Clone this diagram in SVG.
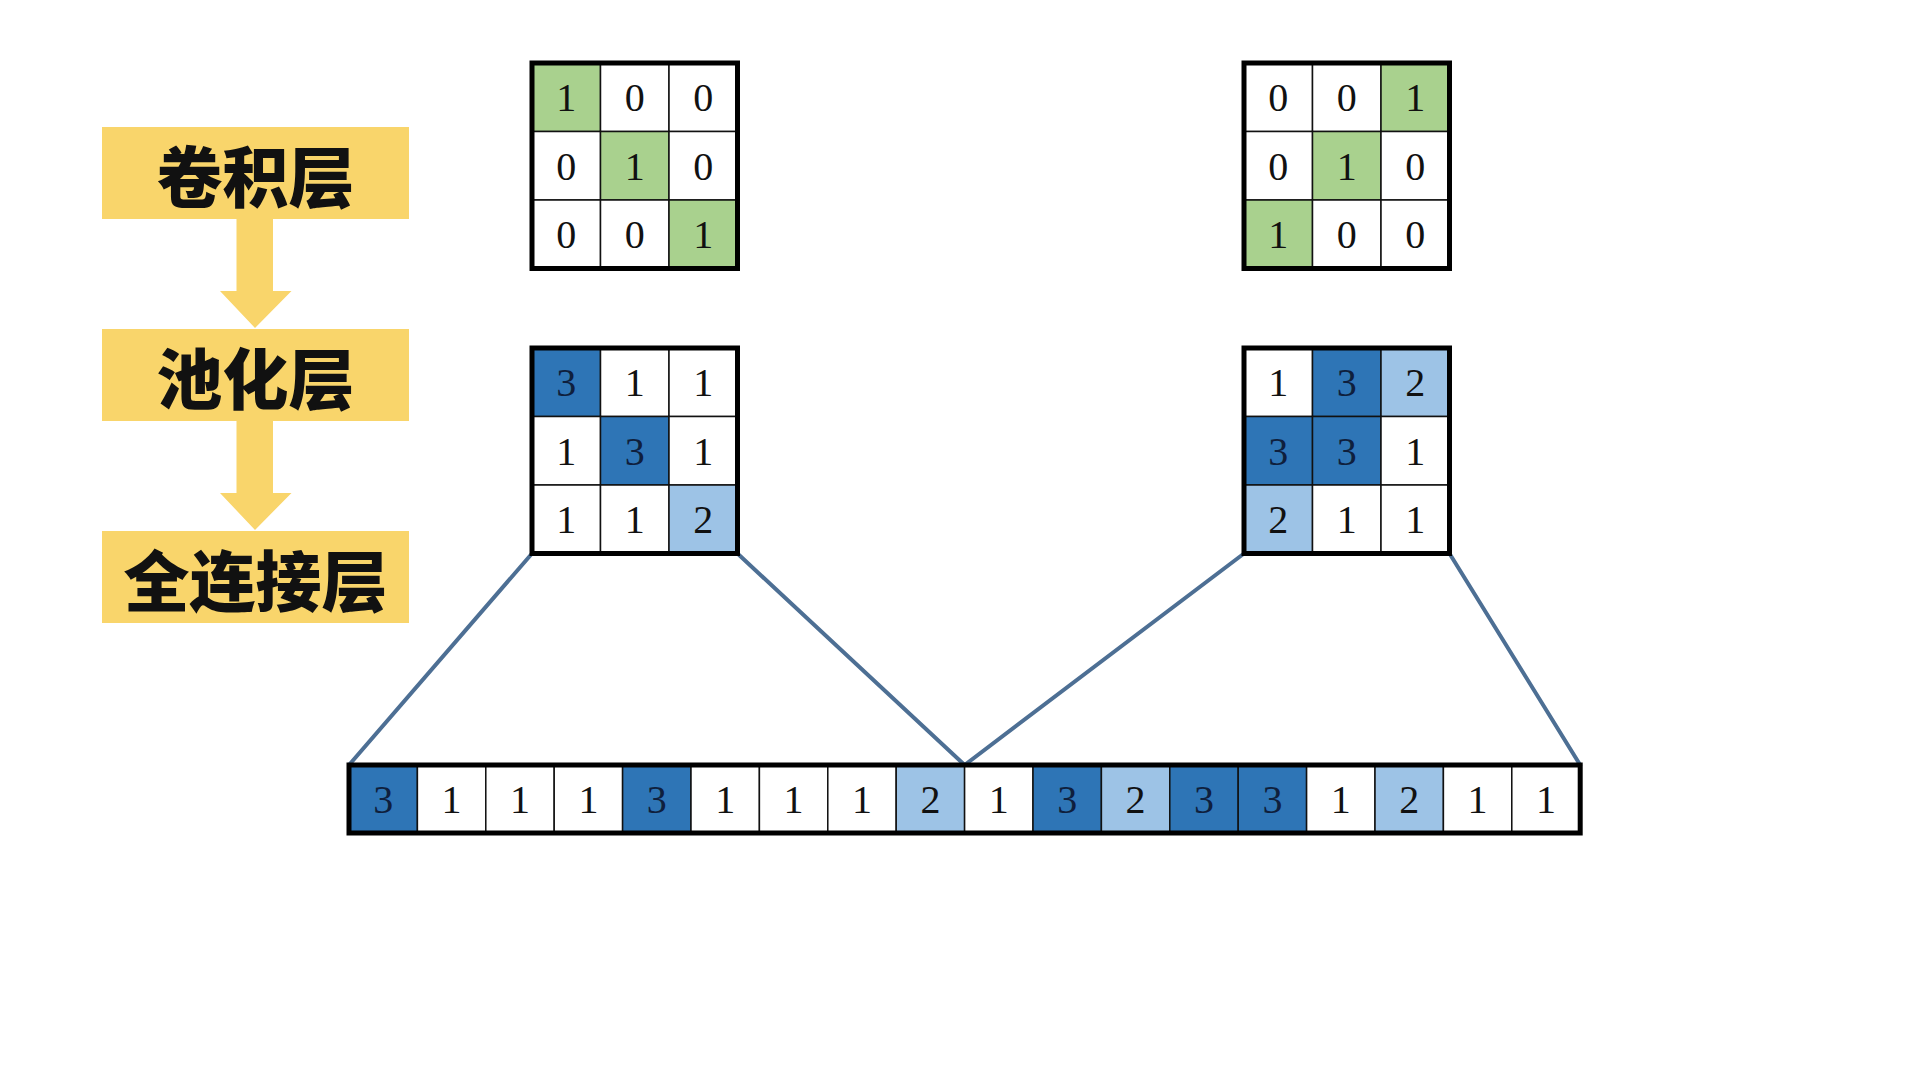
<svg xmlns="http://www.w3.org/2000/svg" width="1920" height="1080" viewBox="0 0 1920 1080">
<style>
.lbl{fill:#f9d56b}
.ltxt{font-family:"Noto Sans CJK SC","Noto Sans",sans-serif;font-weight:900;font-size:66px;fill:#111;text-anchor:middle;dominant-baseline:central}
.arr{fill:#f9d56b}
.c{stroke:#111;stroke-width:1.5}
.w{fill:#ffffff}
.g{fill:#a9d18e}
.d{fill:#2e75b6}
.l{fill:#9dc3e6}
.frame{fill:none;stroke:#000;stroke-width:5}
.n{font-family:"Liberation Serif","DejaVu Serif",serif;font-size:40px;fill:#111;text-anchor:middle}
.nd{fill:#0f1f3d}
.con{stroke:#4d6f94;stroke-width:4;fill:none;stroke-linecap:round}
</style>
<rect width="1920" height="1080" fill="#ffffff"/>

<g id="label-conv">
<rect class="lbl" x="102" y="127" width="307" height="92"/>
<text class="ltxt" x="255.5" y="173">卷积层</text>
</g>
<g id="label-pool">
<rect class="lbl" x="102" y="329" width="307" height="92"/>
<text class="ltxt" x="255.5" y="375">池化层</text>
</g>
<g id="label-fc">
<rect class="lbl" x="102" y="531" width="307" height="92"/>
<text class="ltxt" x="255.5" y="577">全连接层</text>
</g>
<g id="flow-arrows">
<polygon class="arr" points="236.5,219 273,219 273,291 291.5,291 255,328 220,291 236.5,291"/>
<polygon class="arr" points="236.5,421 273,421 273,493 291.5,493 255,530 220,493 236.5,493"/>
</g>

<g id="connectors">
<line class="con" x1="532" y1="553.5" x2="349" y2="765"/>
<line class="con" x1="737.5" y1="553.5" x2="964.6" y2="765"/>
<line class="con" x1="1244" y1="553.5" x2="964.6" y2="765"/>
<line class="con" x1="1449.5" y1="553.5" x2="1580.2" y2="765"/>
</g>

<g id="conv-kernel-left">
<rect class="c g" x="532" y="63" width="68.5" height="68.5"/>
<rect class="c w" x="600.5" y="63" width="68.5" height="68.5"/>
<rect class="c w" x="669" y="63" width="68.5" height="68.5"/>
<rect class="c w" x="532" y="131.5" width="68.5" height="68.5"/>
<rect class="c g" x="600.5" y="131.5" width="68.5" height="68.5"/>
<rect class="c w" x="669" y="131.5" width="68.5" height="68.5"/>
<rect class="c w" x="532" y="200" width="68.5" height="68.5"/>
<rect class="c w" x="600.5" y="200" width="68.5" height="68.5"/>
<rect class="c g" x="669" y="200" width="68.5" height="68.5"/>
<rect class="frame" x="532" y="63" width="205.5" height="205.5"/>
<text class="n" x="566.25" y="111">1</text><text class="n" x="634.75" y="111">0</text><text class="n" x="703.25" y="111">0</text>
<text class="n" x="566.25" y="179.5">0</text><text class="n" x="634.75" y="179.5">1</text><text class="n" x="703.25" y="179.5">0</text>
<text class="n" x="566.25" y="248">0</text><text class="n" x="634.75" y="248">0</text><text class="n" x="703.25" y="248">1</text>
</g>

<g id="conv-kernel-right">
<rect class="c w" x="1244" y="63" width="68.5" height="68.5"/>
<rect class="c w" x="1312.5" y="63" width="68.5" height="68.5"/>
<rect class="c g" x="1381" y="63" width="68.5" height="68.5"/>
<rect class="c w" x="1244" y="131.5" width="68.5" height="68.5"/>
<rect class="c g" x="1312.5" y="131.5" width="68.5" height="68.5"/>
<rect class="c w" x="1381" y="131.5" width="68.5" height="68.5"/>
<rect class="c g" x="1244" y="200" width="68.5" height="68.5"/>
<rect class="c w" x="1312.5" y="200" width="68.5" height="68.5"/>
<rect class="c w" x="1381" y="200" width="68.5" height="68.5"/>
<rect class="frame" x="1244" y="63" width="205.5" height="205.5"/>
<text class="n" x="1278.25" y="111">0</text><text class="n" x="1346.75" y="111">0</text><text class="n" x="1415.25" y="111">1</text>
<text class="n" x="1278.25" y="179.5">0</text><text class="n" x="1346.75" y="179.5">1</text><text class="n" x="1415.25" y="179.5">0</text>
<text class="n" x="1278.25" y="248">1</text><text class="n" x="1346.75" y="248">0</text><text class="n" x="1415.25" y="248">0</text>
</g>

<g id="pool-left">
<rect class="c d" x="532" y="348" width="68.5" height="68.5"/>
<rect class="c w" x="600.5" y="348" width="68.5" height="68.5"/>
<rect class="c w" x="669" y="348" width="68.5" height="68.5"/>
<rect class="c w" x="532" y="416.5" width="68.5" height="68.5"/>
<rect class="c d" x="600.5" y="416.5" width="68.5" height="68.5"/>
<rect class="c w" x="669" y="416.5" width="68.5" height="68.5"/>
<rect class="c w" x="532" y="485" width="68.5" height="68.5"/>
<rect class="c w" x="600.5" y="485" width="68.5" height="68.5"/>
<rect class="c l" x="669" y="485" width="68.5" height="68.5"/>
<rect class="frame" x="532" y="348" width="205.5" height="205.5"/>
<text class="n nd" x="566.25" y="396">3</text><text class="n" x="634.75" y="396">1</text><text class="n" x="703.25" y="396">1</text>
<text class="n" x="566.25" y="464.5">1</text><text class="n nd" x="634.75" y="464.5">3</text><text class="n" x="703.25" y="464.5">1</text>
<text class="n" x="566.25" y="533">1</text><text class="n" x="634.75" y="533">1</text><text class="n" x="703.25" y="533">2</text>
</g>

<g id="pool-right">
<rect class="c w" x="1244" y="348" width="68.5" height="68.5"/>
<rect class="c d" x="1312.5" y="348" width="68.5" height="68.5"/>
<rect class="c l" x="1381" y="348" width="68.5" height="68.5"/>
<rect class="c d" x="1244" y="416.5" width="68.5" height="68.5"/>
<rect class="c d" x="1312.5" y="416.5" width="68.5" height="68.5"/>
<rect class="c w" x="1381" y="416.5" width="68.5" height="68.5"/>
<rect class="c l" x="1244" y="485" width="68.5" height="68.5"/>
<rect class="c w" x="1312.5" y="485" width="68.5" height="68.5"/>
<rect class="c w" x="1381" y="485" width="68.5" height="68.5"/>
<rect class="frame" x="1244" y="348" width="205.5" height="205.5"/>
<text class="n" x="1278.25" y="396">1</text><text class="n nd" x="1346.75" y="396">3</text><text class="n" x="1415.25" y="396">2</text>
<text class="n nd" x="1278.25" y="464.5">3</text><text class="n nd" x="1346.75" y="464.5">3</text><text class="n" x="1415.25" y="464.5">1</text>
<text class="n" x="1278.25" y="533">2</text><text class="n" x="1346.75" y="533">1</text><text class="n" x="1415.25" y="533">1</text>
</g>

<g id="flattened-vector">
<rect class="c d" x="349" y="765" width="68.4" height="68"/>
<rect class="c w" x="417.4" y="765" width="68.4" height="68"/>
<rect class="c w" x="485.8" y="765" width="68.4" height="68"/>
<rect class="c w" x="554.2" y="765" width="68.4" height="68"/>
<rect class="c d" x="622.6" y="765" width="68.4" height="68"/>
<rect class="c w" x="691" y="765" width="68.4" height="68"/>
<rect class="c w" x="759.4" y="765" width="68.4" height="68"/>
<rect class="c w" x="827.8" y="765" width="68.4" height="68"/>
<rect class="c l" x="896.2" y="765" width="68.4" height="68"/>
<rect class="c w" x="964.6" y="765" width="68.4" height="68"/>
<rect class="c d" x="1033" y="765" width="68.4" height="68"/>
<rect class="c l" x="1101.4" y="765" width="68.4" height="68"/>
<rect class="c d" x="1169.8" y="765" width="68.4" height="68"/>
<rect class="c d" x="1238.2" y="765" width="68.4" height="68"/>
<rect class="c w" x="1306.6" y="765" width="68.4" height="68"/>
<rect class="c l" x="1375" y="765" width="68.4" height="68"/>
<rect class="c w" x="1443.4" y="765" width="68.4" height="68"/>
<rect class="c w" x="1511.8" y="765" width="68.4" height="68"/>
<rect class="frame" x="349" y="765" width="1231.2" height="68"/>
<text class="n nd" x="383.2" y="813">3</text>
<text class="n" x="451.6" y="813">1</text>
<text class="n" x="520" y="813">1</text>
<text class="n" x="588.4" y="813">1</text>
<text class="n nd" x="656.8" y="813">3</text>
<text class="n" x="725.2" y="813">1</text>
<text class="n" x="793.6" y="813">1</text>
<text class="n" x="862" y="813">1</text>
<text class="n" x="930.4" y="813">2</text>
<text class="n" x="998.8" y="813">1</text>
<text class="n nd" x="1067.2" y="813">3</text>
<text class="n" x="1135.6" y="813">2</text>
<text class="n nd" x="1204" y="813">3</text>
<text class="n nd" x="1272.4" y="813">3</text>
<text class="n" x="1340.8" y="813">1</text>
<text class="n" x="1409.2" y="813">2</text>
<text class="n" x="1477.6" y="813">1</text>
<text class="n" x="1546" y="813">1</text>
</g>
</svg>
